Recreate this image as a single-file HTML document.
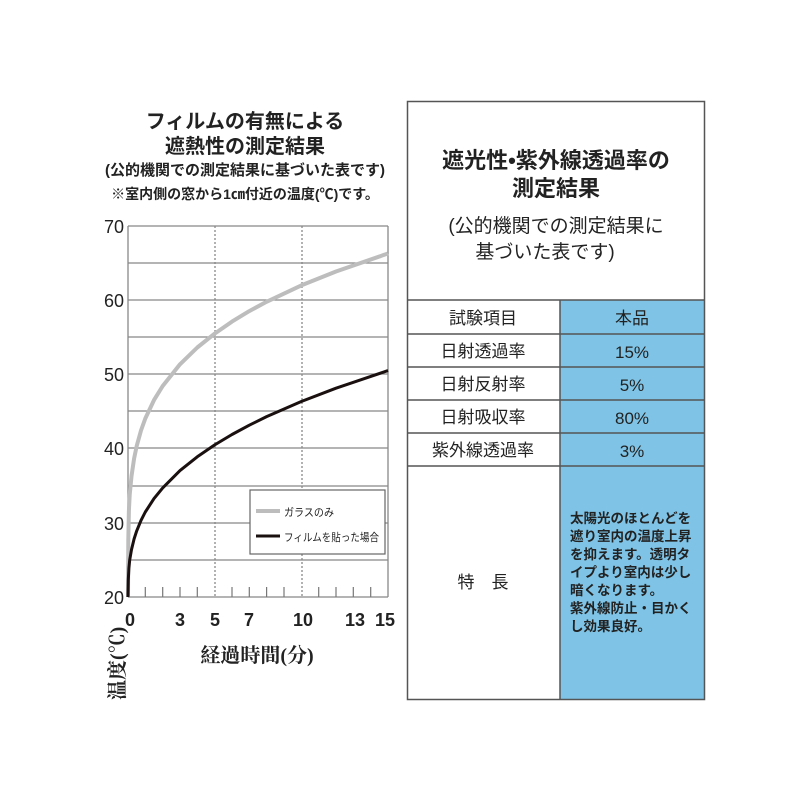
<!DOCTYPE html>
<html><head><meta charset="utf-8"><style>
body{margin:0;background:#fff}
svg text{font-family:"Liberation Sans","Noto Sans CJK JP",sans-serif;fill:#222}
.s{font-family:"Liberation Serif","Noto Serif CJK SC",serif}
</style></head><body>
<svg width="800" height="800" xmlns="http://www.w3.org/2000/svg">
<text x="245" y="128" font-size="20" font-weight="bold" text-anchor="middle">フィルムの有無による</text>
<text x="245" y="153" font-size="20" font-weight="bold" text-anchor="middle">遮熱性の測定結果</text>
<text x="245" y="175" font-size="15" font-weight="bold" text-anchor="middle">(公的機関での測定結果に基づいた表です)</text>
<text x="245" y="199" font-size="14" font-weight="bold" text-anchor="middle">※室内側の窓から1㎝付近の温度(℃)です。</text>
<g stroke="#888" stroke-width="1.3">
<line x1="128" y1="226" x2="388" y2="226"/>
<line x1="128" y1="263" x2="388" y2="263"/>
<line x1="128" y1="300" x2="388" y2="300"/>
<line x1="128" y1="337" x2="388" y2="337"/>
<line x1="128" y1="374" x2="388" y2="374"/>
<line x1="128" y1="411" x2="388" y2="411"/>
<line x1="128" y1="448" x2="388" y2="448"/>
<line x1="128" y1="486" x2="388" y2="486"/>
<line x1="128" y1="523" x2="388" y2="523"/>
<line x1="128" y1="560" x2="388" y2="560"/>
<line x1="128" y1="597" x2="388" y2="597"/>
<line x1="128" y1="226" x2="128" y2="597"/>
<line x1="388" y1="226" x2="388" y2="597"/>
</g>
<g stroke="#888" stroke-width="1.3" stroke-dasharray="2,2">
<line x1="215" y1="226" x2="215" y2="597"/><line x1="302" y1="226" x2="302" y2="597"/>
</g>
<g stroke="#777" stroke-width="1.2">
<line x1="145.3" y1="597" x2="145.3" y2="587"/><line x1="162.7" y1="597" x2="162.7" y2="587"/><line x1="180" y1="597" x2="180" y2="587"/><line x1="197.3" y1="597" x2="197.3" y2="587"/><line x1="232" y1="597" x2="232" y2="587"/><line x1="249.3" y1="597" x2="249.3" y2="587"/><line x1="266.6" y1="597" x2="266.6" y2="587"/><line x1="284" y1="597" x2="284" y2="587"/><line x1="318.7" y1="597" x2="318.7" y2="587"/><line x1="336" y1="597" x2="336" y2="587"/><line x1="353.3" y1="597" x2="353.3" y2="587"/><line x1="370.7" y1="597" x2="370.7" y2="587"/>
</g>
<polyline points="128,597 128.3,540 128.9,510.6 129.7,494.8 131.5,476.2 134.1,458.5 136.7,446 141,430.5 145.3,418.5 154,400.1 162.7,386 180,364.3 197.3,347.5 214.7,333.6 232,321.6 249.3,311.1 266.6,301.8 301.3,285.4 336,271.5 388,253.5" fill="none" stroke="#bdbdbd" stroke-width="4" stroke-linejoin="round"/>
<polyline points="128,597 128.3,580 128.9,568.3 129.7,560 131.5,549.6 134.1,538.9 136.7,530.9 141,520.4 145.3,512 154,498.6 162.7,487.9 180,470.6 197.3,456.8 214.7,444.9 232,434.5 249.3,425.2 266.6,416.6 301.3,401.5 336,388.2 388,370.6" fill="none" stroke="#1a1010" stroke-width="3" stroke-linejoin="round"/>
<rect x="250" y="490" width="135" height="64" fill="#fff" stroke="#666" stroke-width="1.2"/>
<line x1="256" y1="511" x2="280" y2="511" stroke="#bdbdbd" stroke-width="4"/>
<text x="284" y="516" font-size="11" textLength="50" lengthAdjust="spacingAndGlyphs">ガラスのみ</text>
<line x1="256" y1="536" x2="280" y2="536" stroke="#1a1010" stroke-width="3"/>
<text x="284" y="541" font-size="11" textLength="95" lengthAdjust="spacingAndGlyphs">フィルムを貼った場合</text>
<g font-size="18" text-anchor="end" class="s">
<text x="124" y="233">70</text><text x="124" y="307">60</text><text x="124" y="381">50</text><text x="124" y="455">40</text><text x="124" y="530">30</text><text x="124" y="604">20</text>
</g>
<g font-size="18" text-anchor="middle" class="s" font-weight="bold">
<text x="130" y="626">0</text><text x="180" y="626">3</text><text x="215" y="626">5</text><text x="249" y="626">7</text><text x="303" y="626">10</text><text x="355" y="626">13</text><text x="385" y="626">15</text>
</g>
<text x="257" y="662" font-size="20" font-weight="bold" text-anchor="middle" class="s">経過時間(分)</text>
<text transform="translate(124,700) rotate(-90)" font-size="20" font-weight="bold" class="s">温度(℃)</text>
<rect x="560" y="300" width="145" height="400" fill="#7fc4e6"/>
<rect x="407.5" y="101.5" width="297" height="598" fill="none" stroke="#555" stroke-width="1.5"/>
<g stroke="#555" stroke-width="1.5">
<line x1="407" y1="300" x2="705" y2="300"/><line x1="407" y1="334" x2="705" y2="334"/><line x1="407" y1="367" x2="705" y2="367"/><line x1="407" y1="400" x2="705" y2="400"/><line x1="407" y1="433" x2="705" y2="433"/><line x1="407" y1="466" x2="705" y2="466"/>
<line x1="560" y1="300" x2="560" y2="700"/>
</g>
<g text-anchor="middle">
<text x="556" y="168" font-size="22" font-weight="bold">遮光性•紫外線透過率の</text>
<text x="556" y="196" font-size="22" font-weight="bold">測定結果</text>
<text x="556" y="232" font-size="19">(公的機関での測定結果に</text>
<text x="545" y="258" font-size="19">基づいた表です)</text>
<g font-size="17">
<text x="483" y="324">試験項目</text><text x="632" y="324">本品</text>
<text x="483" y="357">日射透過率</text><text x="632" y="358">15%</text>
<text x="483" y="390">日射反射率</text><text x="632" y="391">5%</text>
<text x="483" y="423">日射吸収率</text><text x="632" y="424">80%</text>
<text x="483" y="456">紫外線透過率</text><text x="632" y="457">3%</text>
<text x="483" y="588">特　長</text>
</g>
</g>
<g font-size="13.5" font-weight="bold">
<text x="570" y="523">太陽光のほとんどを</text>
<text x="570" y="541">遮り室内の温度上昇</text>
<text x="570" y="559">を抑えます。透明タ</text>
<text x="570" y="577">イプより室内は少し</text>
<text x="570" y="595">暗くなります。</text>
<text x="570" y="613">紫外線防止・目かく</text>
<text x="570" y="631">し効果良好。</text>
</g>
</svg>
</body></html>
